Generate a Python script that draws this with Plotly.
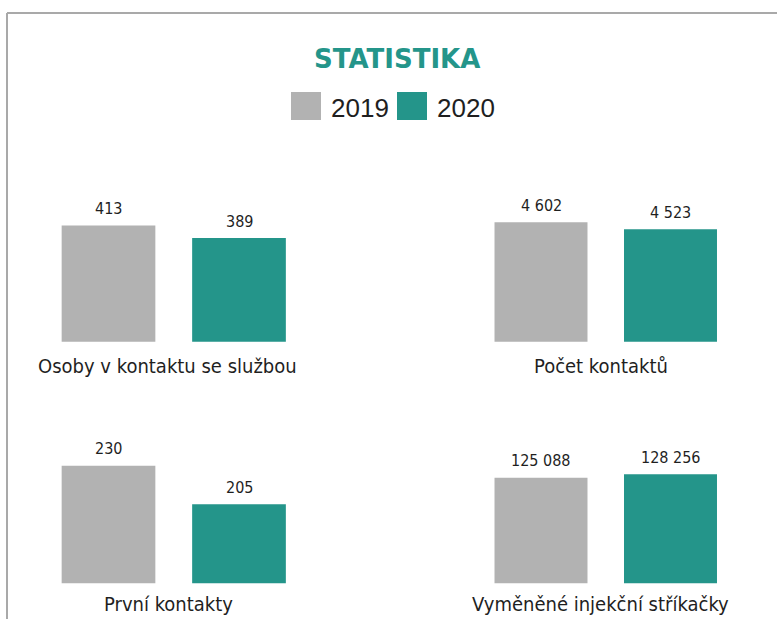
import plotly.graph_objects as go

# ---------------- data ----------------
categories = ["Osoby v kontaktu se službou", "Počet kontaktů",
              "První kontakty", "Vyměněné injekční stříkačky"]
years = ["2019", "2020"]
values_2019 = [413, 4602, 230, 125088]
values_2020 = [389, 4523, 205, 128256]
title_text = "STATISTIKA"

# ---------------- style ----------------
W, H = 777, 619
GRAY = "#b2b2b2"
TEAL = "#24958a"
TEXT = "#1f1f1f"
FRAME = "#a9a9a9"
NARROW = "Liberation Sans Narrow, DejaVu Sans Condensed, Liberation Sans, sans-serif"
SANS = "Liberation Sans, Arial, sans-serif"
TITLE_FONT = "DejaVu Sans, Liberation Sans, sans-serif"


def px_x(p):
    return p / W


def px_y(p):
    return 1 - p / H


# panel layout (pixels): column x-extents, row bottom / top
col_x = [(43.25, 304.25), (476.25, 735.25)]
row_y = [(341.7, 191.7), (583.3, 433.3)]
# per-panel value axis ranges (chosen to reproduce the reference's bar heights)
y_ranges = [(190, 478), (3254, 4947), (153.8, 251), (26688, 166478)]
label_centers = [(167.5, 366), (600.8, 366), (168.3, 604), (600.8, 604)]


def fmt(v):
    return f"{v:,}".replace(",", "\u00a0")


fig = go.Figure()
layout_axes = {}
annotations = []
for i, cat in enumerate(categories):
    r, c = divmod(i, 2)
    n = "" if i == 0 else str(i + 1)
    vals = [values_2019[i], values_2020[i]]
    fig.add_trace(go.Bar(
        x=years, y=vals,
        marker=dict(color=[GRAY, TEAL], line=dict(width=0)),
        showlegend=False,
        hoverinfo="skip",
        xaxis="x" + n, yaxis="y" + n,
    ))
    # value labels above the bars, placed through the panel's axes
    for j, v in enumerate(vals):
        annotations.append(dict(text=fmt(v), x=j, y=v, xref="x" + n, yref="y" + n,
                                xanchor="center", yanchor="middle", yshift=17,
                                showarrow=False,
                                font=dict(family=NARROW, size=16, color=TEXT)))
    x0, x1 = col_x[c]
    yb, yt = row_y[r]
    layout_axes["xaxis" + n] = dict(domain=[px_x(x0), px_x(x1)], anchor="y" + n,
                                    range=[-0.5, len(years) - 0.5],
                                    showticklabels=False, showgrid=False,
                                    zeroline=False, showline=False, ticks="",
                                    type="category", fixedrange=True)
    layout_axes["yaxis" + n] = dict(domain=[px_y(yb), px_y(yt)], anchor="x" + n,
                                    range=list(y_ranges[i]),
                                    showticklabels=False, showgrid=False,
                                    zeroline=False, showline=False, ticks="",
                                    fixedrange=True)
    lx, ly = label_centers[i]
    annotations.append(dict(text=cat, x=px_x(lx), y=px_y(ly), xref="paper", yref="paper",
                            xanchor="center", yanchor="middle", showarrow=False,
                            font=dict(family=NARROW, size=20, color=TEXT)))

# title
annotations.append(dict(text="<b>" + title_text + "</b>", x=px_x(396.7), y=px_y(58.7),
                        xref="paper", yref="paper", xanchor="center", yanchor="middle",
                        showarrow=False, font=dict(family=TITLE_FONT, size=26, color=TEAL)))

# manual legend
shapes = []
legend_items = [(years[0], GRAY, 291, 329), (years[1], TEAL, 397, 435.5)]
for label, col, sx, tx in legend_items:
    shapes.append(dict(type="rect", xref="paper", yref="paper",
                       x0=px_x(sx), x1=px_x(sx + 30), y0=px_y(120), y1=px_y(92),
                       fillcolor=col, line=dict(width=0)))
    annotations.append(dict(text=label, x=px_x(tx), y=px_y(108), xref="paper", yref="paper",
                            xanchor="left", yanchor="middle", showarrow=False,
                            font=dict(family=SANS, size=26, color=TEXT)))

# frame (top and left lines)
shapes.append(dict(type="line", xref="paper", yref="paper",
                   x0=px_x(7), x1=1, y0=px_y(13), y1=px_y(13),
                   line=dict(color=FRAME, width=2)))
shapes.append(dict(type="line", xref="paper", yref="paper",
                   x0=px_x(7), x1=px_x(7), y0=px_y(13), y1=0,
                   line=dict(color=FRAME, width=2)))

fig.update_layout(
    width=W, height=H,
    margin=dict(l=0, r=0, t=0, b=0),
    paper_bgcolor="white", plot_bgcolor="white",
    bargap=0.282,
    annotations=annotations,
    shapes=shapes,
    showlegend=False,
    **layout_axes,
)

fig.write_html(
    "out.html",
    config={"displayModeBar": False},
    post_script="document.body.style.margin='0';document.body.style.overflow='hidden';",
)
